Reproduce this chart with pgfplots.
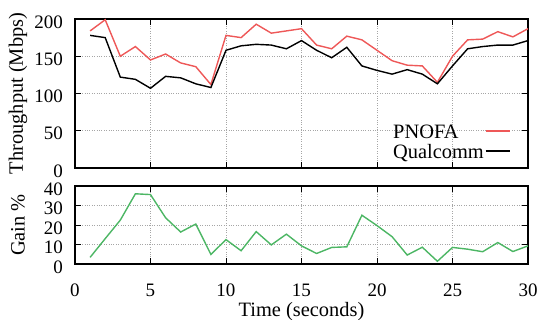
\documentclass[border=0pt]{standalone}
\usepackage{pgfplots}
\pgfplotsset{compat=1.18}
\usepackage{fontspec}
\setmainfont{Liberation Serif}
\definecolor{pred}{RGB}{238,88,88}
\definecolor{pgreen}{RGB}{76,182,100}
\newcommand{\chartfont}{\fontsize{20.4}{23}\selectfont}
\newcommand{\tickfont}{\fontsize{19}{22}\selectfont}
\begin{document}
\chartfont
\begin{tikzpicture}
\pgfplotsset{
  every axis/.append style={
    scale only axis,
    width=453pt,
    xmin=0, xmax=30,
    xtick={0,5,...,30},
    grid=major,
    major grid style={gray!70, dotted, line width=0.6pt},
    axis line style={black, line width=1.1pt},
    tick style={black, line width=0.9pt},
    major tick length=6pt,
    tick align=inside,
    xtick pos=both, ytick pos=both,
    /pgf/number format/assume math mode=true,
    tick label style={font=\tickfont},
    yticklabel style={xshift=-5pt, yshift=-3pt},
    xticklabel style={yshift=-13pt},
    every axis y label/.style={at={(axis description cs:-0.126,0.5)}, rotate=90, anchor=center, font=\chartfont},
    every axis x label/.style={at={(axis description cs:0.5,0)}, yshift=-48pt, anchor=center, font=\chartfont},
  }
}
\begin{axis}[
  name=top,
  at={(0,0)}, anchor=south west,
  height=149pt,
  ymin=0, ymax=200,
  ytick={0,50,...,200},
  xticklabels={},
  ylabel={Throughput (Mbps)},
  legend columns=2,
  legend style={draw=none, fill=none, inner sep=0pt, row sep=2pt, column sep=1pt,
    at={(axis description cs:0.6998,0.2953)}, anchor=north west,
    nodes={inner sep=0pt, text height=14pt, text depth=4pt, anchor=base west, font=\chartfont}},
  legend image code/.code={\draw[line width=1.4pt,solid,#1] (0pt,7pt) -- (24pt,7pt);},
]
\addlegendimage{empty legend}
\addlegendentry{PNOFA}
\addlegendimage{pred, line width=1.4pt}
\addlegendentry{}
\addlegendimage{empty legend}
\addlegendentry{Qualcomm}
\addlegendimage{black, line width=1.4pt}
\addlegendentry{}
\addplot[pred, line width=1.4pt, forget plot] coordinates {
(1,184) (2,199) (3,150) (4,163) (5,145) (6,153) (7,141) (8,136) (9,112) (10,178)
(11,175) (12,193) (13,181) (14,184) (15,187) (16,165) (17,160) (18,177) (19,172) (20,158)
(21,144) (22,138) (23,137) (24,115) (25,150) (26,172) (27,173) (28,183) (29,176) (30,187)
};
\addplot[black, line width=1.4pt, forget plot] coordinates {
(1,178) (2,175) (3,122) (4,119) (5,107) (6,123) (7,121) (8,113) (9,108) (10,158)
(11,164) (12,166) (13,165) (14,160) (15,171) (16,158) (17,148) (18,162) (19,137) (20,131)
(21,126) (22,132) (23,126) (24,113) (25,137) (26,160) (27,163) (28,165) (29,165) (30,171)
};
\end{axis}
\begin{axis}[
  name=bot,
  at={(0,-18pt)}, anchor=north west,
  height=78pt,
  ymin=0, ymax=40,
  ytick={0,10,...,40},
  ylabel={Gain \%},
  xlabel={Time (seconds)},
]
\addplot[pgreen, line width=1.4pt] coordinates {
(1,3.4) (2,13) (3,22.5) (4,36) (5,35.6) (6,23.7) (7,16.4) (8,20.5) (9,4.9) (10,12.5)
(11,6.8) (12,16.6) (13,9.8) (14,15.3) (15,9.3) (16,5.4) (17,8.5) (18,8.8) (19,25) (20,19.7)
(21,14) (22,4.6) (23,8.6) (24,1.4) (25,8.5) (26,7.6) (27,6.3) (28,11) (29,6.4) (30,9.3)
};
\end{axis}
\pgfresetboundingbox
\useasboundingbox (-75pt,-152pt) rectangle (463pt,168pt);
\end{tikzpicture}
\end{document}
